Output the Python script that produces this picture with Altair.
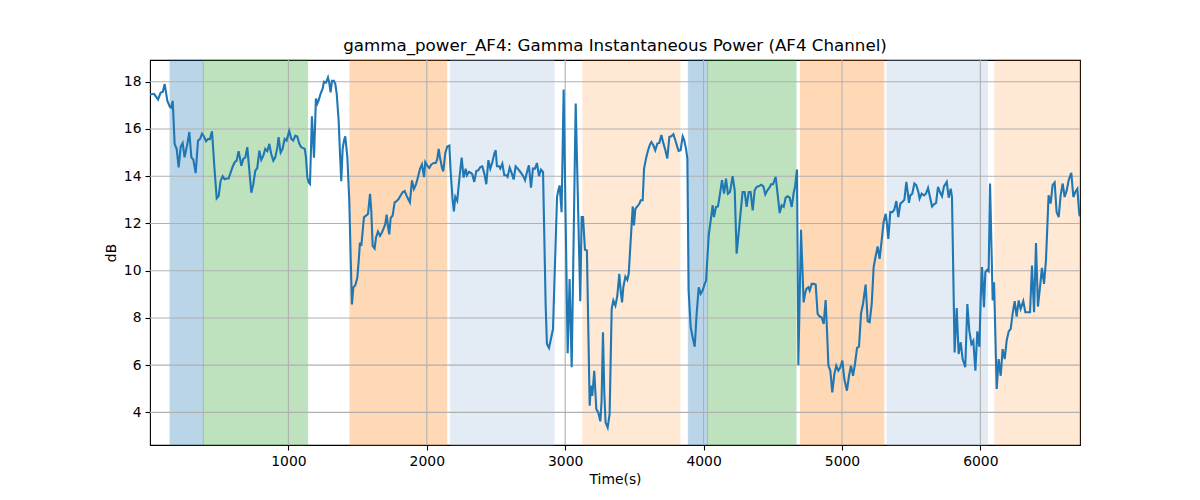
import altair as alt
import pandas as pd

# ---- line data (time in s, power in dB) ----
seg_a_t = [0, 29, 58, 77, 92, 106, 125, 144, 154, 164, 178, 193, 207, 222, 236, 250, 270, 284, 299, 313,
           330, 347, 361, 376, 390, 405, 419, 433, 448, 467, 482, 496, 510, 525, 539, 554, 568, 583, 597, 612,
           626, 640, 650, 660, 674, 689, 703, 718, 732, 746, 761, 775, 790, 804, 819, 833, 848, 862, 876, 891,
           905, 920, 929, 944, 958, 973, 987, 1006, 1021, 1035, 1050, 1064, 1079, 1093]
seg_a_v = [17.46, 17.49, 17.25, 17.54, 17.57, 17.9, 17.2, 16.93, 16.9, 17.19, 15.37, 15.15, 14.37, 15.25, 15.4,
           14.8, 15.37, 15.87, 14.8, 14.7, 14.13, 15.51, 15.57, 15.8, 15.68, 15.48, 15.57, 15.57, 15.9, 14.23,
           13.06, 13.16, 13.8, 14.0, 13.87, 13.9, 13.9, 14.16, 14.4, 14.59, 14.66, 15.06, 14.77, 14.44, 14.73,
           14.8, 15.23, 14.23, 13.3, 13.66, 14.23, 14.34, 15.08, 14.69, 14.87, 15.16, 15.06, 15.37, 14.94, 14.66,
           14.8, 15.2, 15.65, 15.0, 15.16, 15.58, 15.51, 15.91, 15.58, 15.51, 15.72, 15.68, 15.37, 15.23]

seg_b_t = [1103, 1118, 1127, 1137, 1146, 1156, 1170, 1185, 1199, 1209, 1219, 1233, 1248, 1257, 1272, 1286,
           1296, 1305, 1315, 1329, 1339, 1349, 1363, 1373, 1382, 1392, 1402, 1411, 1426, 1440, 1450, 1459,
           1469, 1484, 1498, 1508, 1517, 1527, 1537, 1546, 1561, 1575, 1590, 1599, 1609, 1623, 1633, 1647,
           1662, 1676, 1691, 1700, 1710, 1720, 1729, 1739, 1753, 1768, 1782, 1797, 1811, 1825, 1840, 1854,
           1869, 1878, 1893, 1907, 1922, 1936, 1951, 1965, 1980, 1989, 2004, 2018, 2033, 2047, 2066, 2076,
           2086, 2095, 2110, 2119, 2134, 2148, 2163, 2172, 2187, 2196, 2206, 2220]
seg_b_v = [15.2, 15.16, 14.8, 13.95, 13.74, 13.67, 16.54, 14.78, 17.29, 17.08, 17.22, 17.5, 17.72, 18.0,
           17.96, 18.18, 17.93, 17.55, 18.04, 18.04, 17.9, 17.5, 16.37, 14.95, 13.79, 15.16, 15.52, 15.69,
           14.81, 12.96, 10.55, 8.57, 9.28, 9.39, 9.7, 10.41, 11.19, 11.05, 11.69, 12.26, 12.33, 12.4, 13.25,
           12.54, 11.05, 10.94, 11.4, 11.66, 11.48, 11.62, 11.83, 11.97, 12.37, 11.87, 11.54, 12.23, 12.33,
           12.89, 12.94, 13.04, 13.18, 13.32, 13.37, 13.18, 12.99, 12.89, 13.82, 13.46, 13.65, 13.96, 14.31,
           14.5, 13.96, 14.6, 14.45, 14.35, 14.5, 14.55, 14.57, 14.74, 15.16, 14.81, 14.35, 14.2, 14.98,
           15.26, 15.3, 14.24, 12.96, 12.51, 13.13, 12.96]

seg_c_t = [2238, 2252, 2266, 2281, 2290, 2305, 2319, 2329, 2343, 2358, 2372, 2387, 2401, 2416, 2430, 2445,
           2459, 2474, 2488, 2498, 2507, 2522, 2531, 2546, 2560, 2575, 2584, 2599, 2613, 2628, 2642, 2657,
           2671, 2685, 2700, 2710, 2724, 2738, 2753, 2767, 2782, 2796, 2811, 2825, 2840, 2859, 2868, 2883,
           2897, 2912, 2941, 2950, 2960, 2974, 2989, 3018, 3032, 3047, 3076, 3109, 3119, 3129, 3143, 3157,
           3177, 3186, 3196, 3210, 3225, 3239, 3254, 3263, 3273, 3283, 3292, 3307, 3321, 3336]
seg_c_v = [14.04, 14.79, 13.94, 14.32, 14.04, 14.18, 14.14, 14.08, 13.76, 14.22, 14.25, 14.39, 14.42, 14.11,
           13.66, 14.68, 14.32, 14.6, 14.96, 15.1, 14.42, 14.42, 14.32, 14.53, 14.04, 14.04, 13.97, 14.36,
           14.14, 13.86, 14.42, 14.32, 14.22, 14.11, 13.97, 13.83, 14.18, 14.46, 13.52, 14.32, 14.32, 14.56,
           14.0, 14.28, 14.18, 8.52, 6.9, 6.73, 7.11, 7.53, 13.12, 13.4, 13.61, 12.48, 17.67, 6.5, 9.65, 5.91,
           17.08, 8.71, 12.27, 12.27, 10.89, 10.86, 4.28, 5.13, 4.7, 5.76, 4.14, 4.0, 3.62, 4.49, 7.39, 4.77,
           3.57, 3.36, 3.93, 8.38]

seg_d_t = [3348, 3363, 3377, 3391, 3401, 3411, 3420, 3435, 3449, 3459, 3488, 3497, 3507, 3521, 3536, 3546,
           3560, 3570, 3584, 3599, 3613, 3623, 3637, 3651, 3666, 3680, 3695, 3709, 3724, 3738, 3753, 3767,
           3782, 3796, 3810, 3820, 3834, 3849, 3859, 3873, 3883, 3892, 3907, 3921, 3936, 3950, 3965, 3979,
           3993, 4008, 4018, 4037, 4066, 4075, 4090, 4104, 4119, 4133, 4148, 4162, 4176, 4191, 4210, 4225,
           4239, 4282, 4297, 4311, 4326, 4340, 4355, 4369, 4384, 4398, 4417, 4432, 4446, 4461, 4480]
seg_d_v = [8.74, 8.52, 8.95, 9.87, 9.16, 8.66, 9.3, 9.75, 9.61, 9.87, 12.72, 11.92, 12.62, 12.72, 12.83,
           12.98, 12.98, 14.32, 14.75, 15.1, 15.35, 15.45, 15.31, 15.1, 15.38, 15.41, 15.74, 15.41, 15.1,
           14.75, 15.67, 15.69, 15.78, 15.52, 15.24, 15.07, 15.1, 15.69, 15.55, 15.17, 14.75, 9.16, 7.6, 7.18,
           6.78, 8.17, 9.3, 9.02, 9.16, 9.44, 9.58, 11.49, 12.77, 12.27, 12.7, 12.72, 13.26, 13.83, 13.26,
           13.9, 13.26, 13.33, 14.0, 13.4, 10.72, 13.33, 13.33, 12.7, 13.33, 13.33, 12.55, 13.4, 13.55, 13.57,
           13.64, 13.57, 13.23, 13.4, 13.55]

seg_e_t = [4487, 4502, 4521, 4536, 4550, 4564, 4579, 4593, 4608, 4622, 4637, 4651, 4661, 4675, 4685, 4704,
           4723, 4733, 4743, 4757, 4767, 4781, 4796, 4810, 4824, 4839, 4853, 4868, 4882, 4892, 4902, 4916,
           4930, 4945, 4959, 4974, 4988, 5003, 5017, 5036, 5051, 5065, 5080, 5094, 5109, 5123, 5138, 5152,
           5171, 5186, 5200, 5215, 5229, 5243, 5258, 5272, 5287, 5301, 5316, 5325, 5335, 5349, 5364, 5378,
           5393, 5407, 5422, 5436, 5451, 5465, 5475, 5484, 5494, 5508, 5523, 5537, 5552, 5561, 5576]
seg_e_v = [13.66, 13.66, 13.97, 13.19, 12.44, 12.77, 12.7, 13.09, 13.15, 13.09, 12.7, 13.29, 13.55, 14.28,
           6.01, 11.73, 8.66, 9.02, 9.23, 9.3, 9.16, 9.44, 9.44, 9.41, 8.17, 8.06, 8.03, 7.75, 8.76, 7.46,
           5.98, 5.77, 4.85, 5.62, 5.98, 5.77, 5.91, 6.19, 5.41, 4.92, 5.55, 5.98, 5.55, 6.05, 6.73, 6.78,
           8.2, 8.59, 9.41, 7.86, 7.82, 8.59, 10.15, 10.6, 11.03, 10.5, 11.28, 12.06, 12.41, 11.99, 11.35,
           12.48, 12.48, 12.58, 12.95, 12.27, 12.84, 12.91, 13.0, 13.76, 13.33, 12.87, 13.19, 13.26, 13.69,
           13.62, 13.33, 13.05, 13.26]

seg_f_t = [5593, 5607, 5622, 5636, 5651, 5665, 5680, 5694, 5708, 5723, 5737, 5757, 5771, 5786, 5795, 5814,
           5829, 5843, 5858, 5872, 5891, 5906, 5920, 5935, 5949, 5964, 5978, 5993, 6002, 6012, 6026, 6036,
           6050, 6060, 6070, 6089, 6099, 6118, 6132, 6147, 6161, 6176, 6190, 6205, 6219, 6233, 6248, 6262,
           6277, 6291, 6310, 6325, 6339, 6359, 6373, 6388, 6402, 6416, 6431, 6445, 6460, 6474, 6493, 6508,
           6522, 6537, 6551, 6566, 6580, 6595, 6609, 6624, 6638, 6657, 6672, 6686, 6701, 6715, 6720]
seg_f_v = [13.19, 13.26, 13.5, 13.12, 12.72, 12.81, 12.87, 13.55, 13.33, 13.15, 13.57, 13.76, 13.09, 13.47,
           13.12, 6.54, 8.42, 6.47, 6.97, 6.26, 5.91, 8.59, 7.46, 6.9, 7.04, 5.77, 7.43, 6.78, 8.73, 10.15,
           8.45, 9.94, 10.04, 9.98, 13.69, 8.74, 9.51, 4.99, 6.26, 5.55, 6.68, 6.26, 7.04, 7.43, 7.53, 8.17,
           8.71, 8.06, 8.74, 8.38, 8.71, 8.24, 8.24, 8.24, 10.22, 8.24, 11.17, 8.48, 9.3, 10.12, 9.44, 10.43,
           13.19, 12.84, 13.62, 13.73, 12.48, 12.27, 13.19, 13.69, 13.12, 13.4, 13.83, 14.14, 13.12, 13.33,
           13.47, 12.38, 12.3]

# ---- shaded intervals ----
span_start = [145, 385, 1445, 2172, 3128, 3890, 4029, 4701, 5325, 6105]
span_end = [385, 1139, 2144, 2919, 3829, 4029, 4668, 5303, 6052, 6720]
span_color = ["#1f77b4", "#2ca02c", "#ff7f0e", "#a5c0e1", "#ff7f0e",
              "#1f77b4", "#2ca02c", "#ff7f0e", "#a5c0e1", "#ff7f0e"]
span_opacity = [0.3, 0.3, 0.3, 0.3, 0.17, 0.3, 0.3, 0.3, 0.3, 0.17]

x_ticks = [1000, 2000, 3000, 4000, 5000, 6000]
y_ticks = [4, 6, 8, 10, 12, 14, 16, 18]

X_DOMAIN = [0, 6720]
Y_DOMAIN = [2.62, 18.92]
W, H = 930, 385
FONT = "DejaVu Sans"

t_all = seg_a_t + seg_b_t + seg_c_t + seg_d_t + seg_e_t + seg_f_t
v_all = seg_a_v + seg_b_v + seg_c_v + seg_d_v + seg_e_v + seg_f_v
line_df = pd.DataFrame({"t": t_all, "v": v_all})
span_df = pd.DataFrame({"t": span_start, "t_end": span_end, "c": span_color, "o": span_opacity})
xg_df = pd.DataFrame({"t": x_ticks})
yg_df = pd.DataFrame({"v": y_ticks})

xscale = alt.Scale(domain=X_DOMAIN, nice=False, zero=False)
yscale = alt.Scale(domain=Y_DOMAIN, nice=False, zero=False)

axis_common = dict(
    grid=False, domain=False, tickColor="#000000", tickWidth=1.1, tickSize=5,
    labelColor="#000000", labelFont=FONT, labelFontSize=13.9, labelPadding=4,
    titleFont=FONT, titleFontSize=13.9, titleFontWeight="normal", titleColor="#000000",
    titlePadding=5,
)
x_axis = alt.Axis(values=x_ticks, format="d", **axis_common)
y_axis = alt.Axis(values=y_ticks, format="d", **axis_common)

X_ENC = alt.X("t:Q", scale=xscale, title="Time(s)", axis=x_axis)
Y_ENC = alt.Y("v:Q", scale=yscale, title="dB", axis=y_axis)

spans = alt.Chart(span_df).mark_rect(strokeWidth=1).encode(
    x=X_ENC,
    x2="t_end:Q",
    y=alt.value(0),
    y2=alt.value(H),
    color=alt.Color("c:N", scale=None),
    stroke=alt.Stroke("c:N", scale=None),
    opacity=alt.Opacity("o:Q", scale=None),
)

xgrid = alt.Chart(xg_df).mark_rule(color="#b0b0b0", strokeWidth=1.1).encode(
    x=X_ENC,
    y=alt.value(0),
    y2=alt.value(H),
)

ygrid = alt.Chart(yg_df).mark_rule(color="#b0b0b0", strokeWidth=1.1).encode(
    y=Y_ENC,
    x=alt.value(0),
    x2=alt.value(W),
)

line = alt.Chart(line_df).mark_line(color="#1f77b4", strokeWidth=2.1, clip=True).encode(
    x=X_ENC,
    y=Y_ENC,
)

chart = alt.layer(spans, xgrid, ygrid, line).properties(
    width=W,
    height=H,
    title=alt.TitleParams(
        "gamma_power_AF4: Gamma Instantaneous Power (AF4 Channel)",
        font=FONT, fontSize=16.7, fontWeight="normal", color="#000000",
        offset=-8, baseline="alphabetic", anchor="middle",
    ),
    autosize=alt.AutoSizeParams(type="none"),
    padding={"left": 142, "top": 52, "right": 112, "bottom": 47},
).configure(
    background="white"
).configure_view(
    stroke="#000000", strokeWidth=1.1
)

chart.save("out.html", embed_options={"renderer": "svg", "actions": False})
